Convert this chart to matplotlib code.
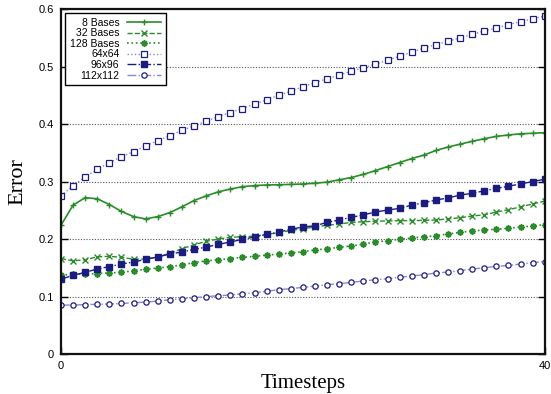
import numpy as np
import matplotlib
matplotlib.use("Agg")
import matplotlib.pyplot as plt

# ---- data ----
timesteps = np.arange(41)

bases_8 = [0.224, 0.259, 0.272, 0.270, 0.260, 0.248, 0.239, 0.235, 0.239, 0.246,
           0.256, 0.267, 0.275, 0.282, 0.287, 0.291, 0.293, 0.294, 0.2945, 0.295,
           0.2957, 0.297, 0.299, 0.303, 0.307, 0.3125, 0.319, 0.326, 0.333, 0.340,
           0.346, 0.354, 0.360, 0.365, 0.370, 0.3745, 0.3786, 0.381, 0.383, 0.384,
           0.385]
bases_32 = [0.166, 0.162, 0.164, 0.169, 0.170, 0.168, 0.165, 0.165, 0.169, 0.175,
            0.183, 0.190, 0.196, 0.200, 0.203, 0.204, 0.205, 0.208, 0.211, 0.215,
            0.218, 0.221, 0.224, 0.226, 0.229, 0.230, 0.231, 0.2315, 0.232, 0.232,
            0.2325, 0.233, 0.235, 0.237, 0.240, 0.242, 0.247, 0.251, 0.256, 0.261,
            0.266]
bases_128 = [0.137, 0.139, 0.139, 0.140, 0.141, 0.142, 0.145, 0.147, 0.1496, 0.152,
             0.155, 0.159, 0.162, 0.164, 0.166, 0.168, 0.170, 0.172, 0.174, 0.1757,
             0.178, 0.181, 0.183, 0.1855, 0.188, 0.191, 0.195, 0.197, 0.1995, 0.2017,
             0.204, 0.2058, 0.2087, 0.2116, 0.214, 0.2157, 0.217, 0.2186, 0.221, 0.2226,
             0.225]
res_64 = [0.275, 0.293, 0.308, 0.321, 0.333, 0.343, 0.352, 0.362, 0.371, 0.380,
          0.389, 0.397, 0.405, 0.413, 0.420, 0.427, 0.435, 0.442, 0.450, 0.457,
          0.465, 0.472, 0.479, 0.485, 0.492, 0.498, 0.504, 0.511, 0.518, 0.525,
          0.532, 0.538, 0.544, 0.550, 0.556, 0.562, 0.567, 0.573, 0.578, 0.583,
          0.588]
res_96 = [0.130, 0.137, 0.142, 0.148, 0.152, 0.1565, 0.160, 0.1647, 0.1687, 0.174,
          0.1774, 0.182, 0.186, 0.1907, 0.1948, 0.1995, 0.2035, 0.208, 0.212, 0.217,
          0.221, 0.223, 0.229, 0.233, 0.2377, 0.242, 0.247, 0.2504, 0.2533, 0.259,
          0.263, 0.268, 0.2713, 0.2765, 0.2794, 0.284, 0.288, 0.292, 0.2957, 0.300,
          0.304]
res_112 = [0.0852, 0.085, 0.086, 0.0864, 0.087, 0.088, 0.089, 0.0904, 0.092, 0.0945,
           0.096, 0.098, 0.0997, 0.1014, 0.1026, 0.105, 0.1066, 0.109, 0.112, 0.1136,
           0.116, 0.118, 0.1206, 0.1223, 0.1246, 0.127, 0.1293, 0.131, 0.1333, 0.1357,
           0.138, 0.1409, 0.1426, 0.145, 0.1478, 0.150, 0.1525, 0.154, 0.1565, 0.159,
           0.1606]

y_ticks = [0, 0.1, 0.2, 0.3, 0.4, 0.5, 0.6]
y_tick_labels = ["0", "0.1", "0.2", "0.3", "0.4", "0.5", "0.6"]
x_ticks = [0, 40]

green = "#2a8c2a"
navy = "#1c1c80"
lightblue = "#8888cc"

fig = plt.figure(figsize=(5.51, 3.94), dpi=100)
ax = fig.add_axes([0.1107, 0.1015, 0.878, 0.8755])

ax.plot(timesteps, bases_8, color=green, ls="-", lw=1.2, marker="+", ms=5,
        mew=1.0, label="8 Bases")
ax.plot(timesteps, bases_32, color=green, ls="--", lw=1.0, marker="x", ms=3.8,
        mew=1.0, label="32 Bases")
ax.plot(timesteps, bases_128, color=green, ls=":", lw=1.2, marker=(8, 2, 0), ms=4.5,
        mew=1.2, label="128 Bases")
ax.plot(timesteps, res_64, color=lightblue, ls=":", lw=1.0, marker="s", ms=3.8,
        mfc="white", mec=navy, mew=0.9, label="64x64")
ax.plot(timesteps, res_96, color=navy, ls="-.", lw=1.0, marker="s", ms=4.3,
        mfc=navy, mec=navy, label="96x96")
ax.plot(timesteps, res_112, color=lightblue, ls="-.", lw=1.0, marker="o", ms=3.8,
        mfc="white", mec=navy, mew=0.9, label="112x112")

ax.set_xlim(0, 40)
ax.set_ylim(0, 0.6)
ax.set_yticks(y_ticks)
ax.set_yticklabels(y_tick_labels)
ax.set_xticks(x_ticks)
ax.tick_params(direction="in", length=5, width=1.0, labelsize=8,
               right=True, top=False, pad=5)
for lab in ax.get_xticklabels() + ax.get_yticklabels():
    lab.set_family("Liberation Sans")

for v in y_ticks[1:-1]:
    ax.axhline(v, color="#555555", ls=(0, (1, 1.5)), lw=0.8, zorder=0)

for sp in ax.spines.values():
    sp.set_linewidth(1.6)
    sp.set_color("#111111")

ax.set_xlabel("Timesteps", family="Liberation Serif", fontsize=15, labelpad=2)
ax.set_ylabel("Error", family="Liberation Serif", fontsize=16, labelpad=8)

leg = ax.legend(loc="upper left", markerfirst=False, fancybox=False,
                framealpha=1, edgecolor="black", borderaxespad=0.4,
                prop={"family": "Liberation Sans", "size": 7.5},
                handlelength=3.3, handletextpad=0.7, labelspacing=0.05,
                borderpad=0.45)
leg.get_frame().set_linewidth(1.0)

fig.savefig("out.png", dpi=100)
